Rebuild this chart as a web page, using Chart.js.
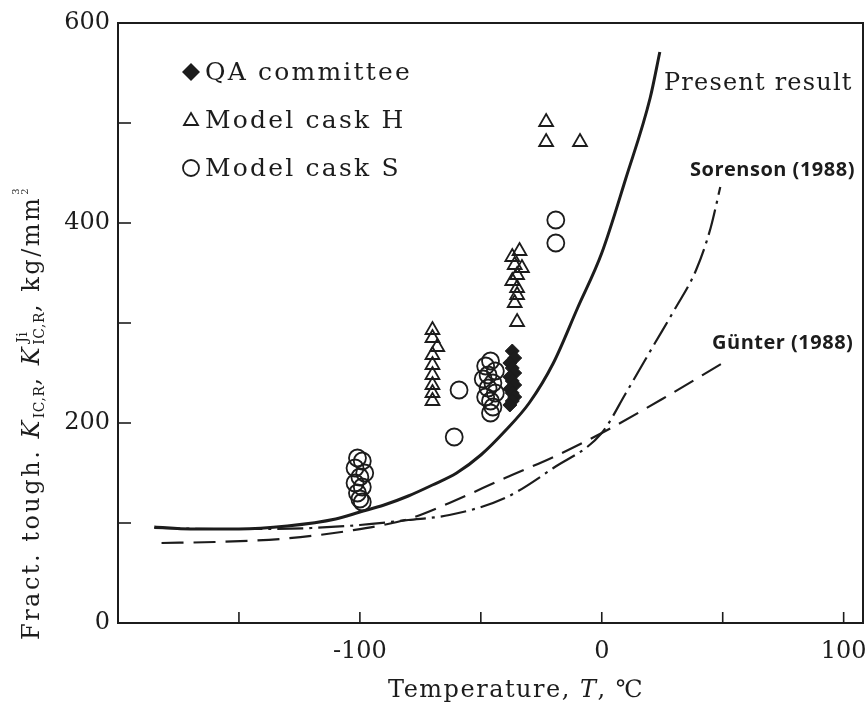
<!DOCTYPE html>
<html><head><meta charset="utf-8">
<script src="https://cdn.jsdelivr.net/npm/chart.js@4.4.0/dist/chart.umd.min.js"></script>
<style>html,body{margin:0;padding:0;background:#fff}</style>
</head><body>
<canvas id="c" width="866" height="704"></canvas>
<script>
// ---- data ----
const presentT = [-185,-170,-150,-130,-110,-100,-90,-80,-70,-60,-50,-40,-30,-20,-10,0,10,20,24];
const presentK = [96,94,94,97,104,111,118,127,138,150,168,192,220,260,315,370,445,525,571];

const sorensonT = [-185,-160,-140,-120,-100,-80,-63,-40,-20,0,10,22,30,39,45,49];
const sorensonK = [95,94,94,95,98,103,108,125,155,190,230,280,313,353,395,436];

const gunterT = [-182,-160,-133,-105,-80,-63,-40,-20,0,25,50];
const gunterK = [80,81,84,92,104,120,145,166,190,224,260];

const qaT = [-37,-36,-38,-37,-36,-38,-37,-36,-38,-37,-36,-37,-38];
const qaK = [272,265,260,255,250,246,242,238,234,230,226,222,218];

const caskHT = [-70,-70,-68,-70,-70,-70,-70,-70,-70, -34,-37,-36,-33,-35,-37,-35,-35,-36,-35, -23,-23,-9];
const caskHK = [293,285,276,268,258,248,238,230,222, 372,366,358,355,348,342,335,328,320,301, 501,481,481];

const caskST = [-101,-99,-102,-98,-100,-102,-99,-101,-100,-99, -59,-61,
                -46,-48,-44,-47,-49,-45,-47,-44,-48,-46,-45,-46, -19,-19];
const caskSK = [165,162,155,150,146,140,136,130,124,121, 233,186,
                262,257,252,248,244,240,235,230,226,222,216,210, 403,380];

const xLabelVals = [-100,0,100];
const yLabelVals = [0,200,400,600];
const xTickVals = [-150,-100,-50,0,50,100];
const yTickVals = [100,200,300,400,500];

const legendNames = ['QA committee','Model cask H','Model cask S'];
const curveNames = ['Present result','Sorenson (1988)','Günter (1988)'];

// ---- helpers ----
const ink = '#1c1c1c';
const serif = '"DejaVu Serif", serif';
const sans = '"Open Sans", sans-serif';
const pts = (xs, ys) => xs.map((x, i) => ({x, y: ys[i]}));

const deco = {
  id: 'deco',
  afterDraw(chart) {
    const {ctx, chartArea: a, scales: {x, y}} = chart;
    ctx.save();
    ctx.strokeStyle = ink; ctx.fillStyle = ink;
    ctx.lineWidth = 2;
    ctx.strokeRect(a.left, a.top, a.right - a.left, a.bottom - a.top);
    ctx.lineWidth = 1.6;
    xTickVals.forEach(v => { const p = x.getPixelForValue(v); ctx.beginPath(); ctx.moveTo(p, a.bottom); ctx.lineTo(p, a.bottom - 11); ctx.stroke(); });
    yTickVals.forEach(v => { const p = y.getPixelForValue(v); ctx.beginPath(); ctx.moveTo(a.left, p); ctx.lineTo(a.left + 13, p); ctx.stroke(); });

    // x tick labels (positions from the x scale)
    ctx.font = '24px ' + serif; ctx.textAlign = 'center'; ctx.textBaseline = 'middle';
    xLabelVals.forEach(v => ctx.fillText(String(v), x.getPixelForValue(v), a.bottom + 29));

    // legend
    ctx.textBaseline = 'middle'; ctx.textAlign = 'left';
    ctx.font = '25px ' + serif; ctx.letterSpacing = '2.2px';
    const lx = 191, ly = [72, 120, 168];
    ctx.beginPath(); ctx.moveTo(lx, ly[0] - 9); ctx.lineTo(lx + 9, ly[0]); ctx.lineTo(lx, ly[0] + 9); ctx.lineTo(lx - 9, ly[0]); ctx.closePath(); ctx.fill();
    ctx.lineWidth = 1.8;
    ctx.beginPath(); ctx.moveTo(lx, ly[1] - 7); ctx.lineTo(lx + 7, ly[1] + 5); ctx.lineTo(lx - 7, ly[1] + 5); ctx.closePath(); ctx.stroke();
    ctx.beginPath(); ctx.arc(lx, ly[2], 8, 0, Math.PI * 2); ctx.stroke();
    legendNames.forEach((t, i) => ctx.fillText(t, 205, ly[i] + 1));

    // curve labels
    ctx.font = '24px ' + serif; ctx.letterSpacing = '1.2px';
    ctx.fillText(curveNames[0], 664, 84);
    ctx.font = 'bold 20px ' + sans; ctx.letterSpacing = '0.5px';
    ctx.fillText(curveNames[1], 690, 170);
    ctx.fillText(curveNames[2], 712, 343);

    // x title
    ctx.letterSpacing = '1.5px';
    ctx.textBaseline = 'alphabetic';
    let cx = 388;
    const segX = (t, f) => { ctx.font = f; ctx.fillText(t, cx, 697); cx += ctx.measureText(t).width; };
    segX('Temperature, ', '24px ' + serif);
    segX('T', 'italic 24px ' + serif);
    segX(', ℃', '24px ' + serif);

    // y title (rotated)
    ctx.save();
    ctx.translate(39, 640); ctx.rotate(-Math.PI / 2);
    const big = '2.5px';
    ctx.letterSpacing = big;
    let c = 0;
    const seg = (t, f, dy = 0) => { ctx.font = f; ctx.fillText(t, c, dy); c += ctx.measureText(t).width; };
    seg('Fract. tough. ', '24px ' + serif);
    seg('K', 'italic 24px ' + serif);
    ctx.letterSpacing = '0.5px';
    seg('IC,R', '14px ' + serif, 5);
    ctx.letterSpacing = big;
    seg(', ', '24px ' + serif);
    seg('K', 'italic 24px ' + serif);
    ctx.letterSpacing = '0.5px';
    ctx.font = '14px ' + serif;
    const c0 = c;
    ctx.fillText('Ji', c0 + 2, -12);
    ctx.fillText('IC,R', c0, 5);
    c = c0 + ctx.measureText('IC,R').width;
    ctx.letterSpacing = big;
    seg(', kg/mm', '24px ' + serif);
    ctx.letterSpacing = '0px';
    ctx.font = '10px ' + serif;
    ctx.fillText('3', c + 1, -20);
    ctx.fillText('2', c + 1, -11);
    ctx.restore();

    ctx.restore();
  }
};

const lineDs = (label, xs, ys, dash, w) => ({
  label, data: pts(xs, ys), showLine: true, pointRadius: 0, borderColor: ink,
  borderWidth: w, borderDash: dash, cubicInterpolationMode: 'monotone', fill: false
});

new Chart(document.getElementById('c'), {
  type: 'scatter',
  data: {
    datasets: [
      lineDs(curveNames[0], presentT, presentK, [], 3),
      lineDs(curveNames[1], sorensonT, sorensonK, [26, 6, 3, 6], 2.2),
      lineDs(curveNames[2], gunterT, gunterK, [22, 10], 2.2),
      {label: legendNames[0], data: pts(qaT, qaK), pointStyle: 'rectRot', pointRadius: 7, backgroundColor: ink, borderColor: ink, borderWidth: 1},
      {label: legendNames[1], data: pts(caskHT, caskHK), pointStyle: 'triangle', pointRadius: 8, backgroundColor: 'rgba(0,0,0,0)', borderColor: ink, borderWidth: 1.8},
      {label: legendNames[2], data: pts(caskST, caskSK), pointStyle: 'circle', pointRadius: 8.5, backgroundColor: 'rgba(0,0,0,0)', borderColor: ink, borderWidth: 1.8}
    ]
  },
  options: {
    responsive: false, animation: false,
    layout: {autoPadding: false, padding: {top: 23, right: 3, left: 0, bottom: 0}},
    plugins: {legend: {display: false}, tooltip: {enabled: false}},
    scales: {
      x: {
        type: 'linear', min: -200, max: 108,
        grid: {display: false, drawTicks: false}, border: {display: true, color: ink, width: 2},
        ticks: {display: false, stepSize: 50, includeBounds: false},
        afterFit: s => { s.height = 81; }
      },
      y: {
        type: 'linear', min: 0, max: 600,
        grid: {display: false, drawTicks: false}, border: {display: true, color: ink, width: 2},
        ticks: {stepSize: 100, padding: 8, color: ink, font: {family: 'DejaVu Serif', size: 24},
          autoSkip: false,
          callback: v => yLabelVals.includes(v) ? String(v) : ''},
        afterFit: s => { s.width = 118; }
      }
    }
  },
  plugins: [deco]
});
</script>
</body></html>
